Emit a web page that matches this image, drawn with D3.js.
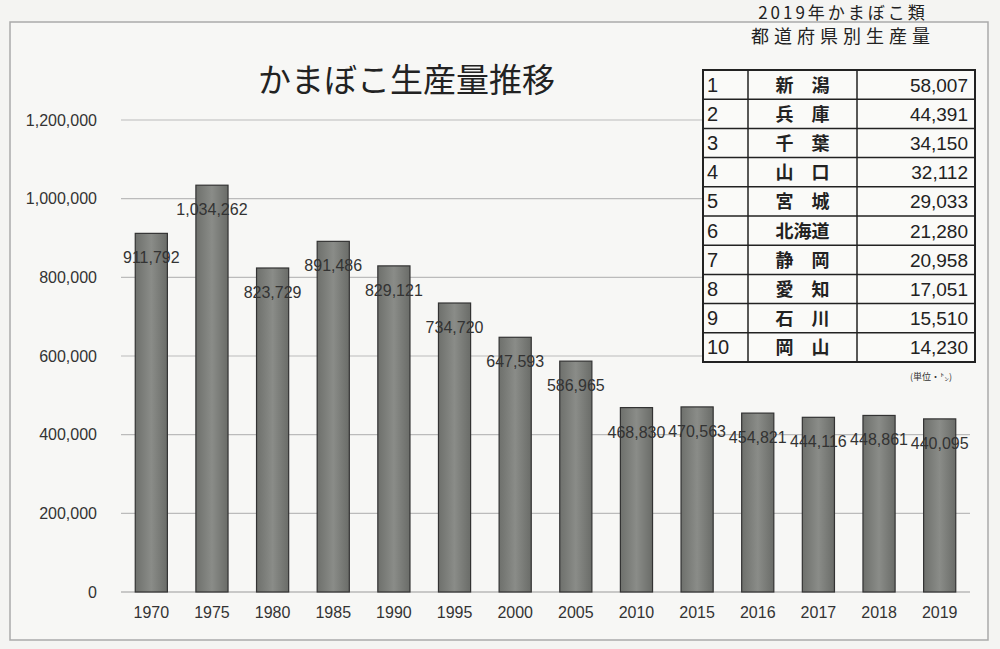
<!DOCTYPE html>
<html><head><meta charset="utf-8">
<script src="https://cdn.jsdelivr.net/npm/d3@7"></script>
<style>body{margin:0;background:#f4f4f2}text{font-family:"Noto Sans CJK JP",sans-serif}text.num{font-family:"Liberation Sans",sans-serif}</style>
</head><body><svg id="c" width="1000" height="649"></svg>
<script>
const years = ["1970","1975","1980","1985","1990","1995","2000","2005","2010","2015","2016","2017","2018","2019"];
const production = [911792,1034262,823729,891486,829121,734720,647593,586965,468830,470563,454821,444116,448861,440095];
const yTicks = [0,200000,400000,600000,800000,1000000,1200000];
const ranks = [1,2,3,4,5,6,7,8,9,10];
const prefs = ["新　潟","兵　庫","千　葉","山　口","宮　城","北海道","静　岡","愛　知","石　川","岡　山"];
const prefValues = ["58,007","44,391","34,150","32,112","29,033","21,280","20,958","17,051","15,510","14,230"];

const svg = d3.select("#c");
const defs = svg.append("defs");
const g0 = defs.append("linearGradient").attr("id","bg").attr("x1",0).attr("x2",1);
g0.append("stop").attr("offset","0").attr("stop-color","#6e706c");
g0.append("stop").attr("offset","0.5").attr("stop-color","#8a8c88");
g0.append("stop").attr("offset","1").attr("stop-color","#6a6c68");

svg.append("rect").attr("x",10).attr("y",22).attr("width",978).attr("height",618)
  .attr("fill","#f7f7f5").attr("stroke","#aaa").attr("stroke-width",1.5);

const x = d3.scaleBand().domain(years).range([121,970]).paddingInner(0.47).paddingOuter(0.235);
const y = d3.scaleLinear().domain([0,1200000]).range([592,120]);

const grid = svg.append("g");
grid.selectAll("line").data(yTicks.slice(1)).join("line")
  .attr("x1",121).attr("x2",970).attr("y1",d=>y(d)).attr("y2",d=>y(d))
  .attr("stroke","#bbb").attr("stroke-width",1.2);
svg.append("line").attr("x1",121).attr("x2",970).attr("y1",y(0)).attr("y2",y(0)).attr("stroke","#999");

const ya = svg.append("g").attr("transform","translate(100,0)")
  .call(d3.axisLeft(y).tickValues(yTicks).tickFormat(d3.format(",")).tickSize(0));
ya.select(".domain").remove();
ya.selectAll("text").attr("class","num").attr("font-size",16).attr("fill","#333");

const xa = svg.append("g").attr("transform",`translate(0,${y(0)+12})`)
  .call(d3.axisBottom(x).tickSize(0));
xa.select(".domain").remove();
xa.selectAll("text").attr("class","num").attr("font-size",16).attr("fill","#333");

svg.append("g").selectAll("rect").data(production).join("rect")
  .attr("x",(d,i)=>x(years[i])).attr("width",x.bandwidth())
  .attr("y",d=>y(d)).attr("height",d=>y(0)-y(d))
  .attr("fill","url(#bg)").attr("stroke","#333").attr("stroke-width",1.2);

svg.append("g").selectAll("text").data(production).join("text")
  .attr("class","num")
  .attr("x",(d,i)=>x(years[i])+x.bandwidth()/2).attr("y",d=>y(d)+30)
  .attr("text-anchor","middle").attr("font-size",16).attr("fill","#333")
  .text(d=>d3.format(",")(d));

svg.append("text").attr("x",258).attr("y",92).attr("font-size",33).attr("fill","#222")
  .text("かまぼこ生産量推移");

svg.append("text").attr("x",843).attr("y",19).attr("text-anchor","middle").attr("font-size",17).attr("fill","#222")
  .attr("letter-spacing",3).text("2019年かまぼこ類");
svg.append("text").attr("x",843).attr("y",43).attr("text-anchor","middle").attr("font-size",18).attr("fill","#222")
  .attr("letter-spacing",5).text("都道府県別生産量");

// table
const tx = [703,748,857,975], ty0 = 70, rh = 29.2;
const tb = svg.append("g");
tb.append("rect").attr("x",tx[0]).attr("y",ty0).attr("width",tx[3]-tx[0]).attr("height",rh*10)
  .attr("fill","#fafaf8").attr("stroke","#222").attr("stroke-width",2);
tb.selectAll("line.r").data(d3.range(1,10)).join("line").attr("class","r")
  .attr("x1",tx[0]).attr("x2",tx[3]).attr("y1",d=>ty0+d*rh).attr("y2",d=>ty0+d*rh)
  .attr("stroke","#222").attr("stroke-width",1.5);
tb.selectAll("line.c").data([tx[1],tx[2]]).join("line").attr("class","c")
  .attr("x1",d=>d).attr("x2",d=>d).attr("y1",ty0).attr("y2",ty0+rh*10)
  .attr("stroke","#222").attr("stroke-width",1.5);
const row = tb.selectAll("g.row").data(ranks).join("g").attr("class","row")
  .attr("transform",(d,i)=>`translate(0,${ty0+i*rh+rh/2+7})`);
row.append("text").attr("class","num").attr("x",707).attr("font-size",20).attr("fill","#222").text(d=>d);
row.append("text").attr("x",(tx[1]+tx[2])/2).attr("text-anchor","middle").attr("font-size",18)
  .attr("font-weight","bold").attr("fill","#222").text((d,i)=>prefs[i]);
row.append("text").attr("class","num").attr("x",968).attr("text-anchor","end").attr("font-size",19).attr("fill","#222")
  .text((d,i)=>prefValues[i]);
svg.append("text").attr("x",952).attr("y",380).attr("text-anchor","end").attr("font-size",9).attr("fill","#333").text("(単位・㌧)");
</script></body></html>
